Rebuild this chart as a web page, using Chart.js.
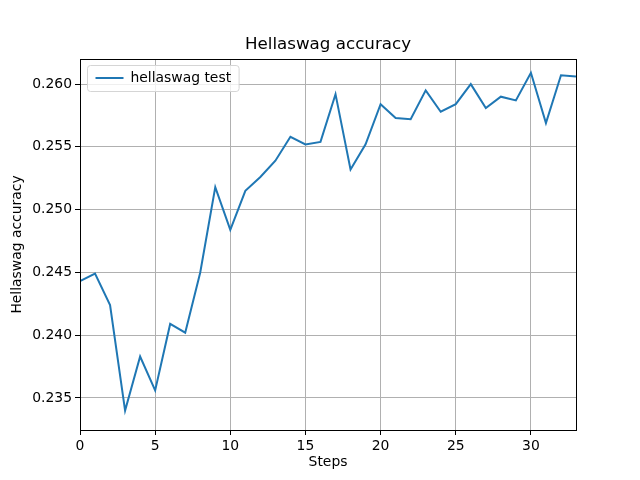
<!DOCTYPE html>
<html>
<head>
<meta charset="utf-8">
<script src="https://cdn.jsdelivr.net/npm/chart.js@4"></script>
<style>
  html, body { margin: 0; padding: 0; background: #fff; }
  #wrap { width: 640px; height: 480px; }
</style>
</head>
<body>
<div id="wrap"><canvas id="myChart" width="640" height="480"></canvas></div>
<script>
// values
var steps = [0, 1, 2, 3, 4, 5, 6, 7, 8, 9, 10, 11, 12, 13, 14, 15, 16, 17, 18, 19, 20,
             21, 22, 23, 24, 25, 26, 27, 28, 29, 30, 31, 32, 33];
var accuracy = [0.2443, 0.2449, 0.2424, 0.2340, 0.2383, 0.2356, 0.2409, 0.2402, 0.2450, 0.2518,
                0.2484, 0.2515, 0.2526, 0.2539, 0.2558, 0.2552, 0.2554, 0.2592, 0.2532, 0.2552,
                0.2584, 0.2573, 0.2572, 0.2595, 0.2578, 0.2584, 0.2600, 0.2581, 0.2590, 0.2587,
                0.2609, 0.2569, 0.2607, 0.2606];
var xTicks = [0, 5, 10, 15, 20, 25, 30];
var yTicks = [0.235, 0.240, 0.245, 0.250, 0.255, 0.260];

var FONT = "'DejaVu Sans', sans-serif";
var LINE = '#1f77b4';

// frame, title and the legend inside the axes (matplotlib style)
var mplBits = {
	id: 'mplBits',
	afterDraw: function(chart) {
		var ctx = chart.ctx;
		var a = chart.chartArea;
		ctx.save();
		ctx.strokeStyle = '#000';
		ctx.lineWidth = 1;
		ctx.strokeRect(Math.round(a.left) + 0.5, Math.round(a.top) + 0.5,
			Math.round(a.right - a.left), Math.round(a.bottom - a.top));

		ctx.fillStyle = '#000';
		ctx.font = '16.7px ' + FONT;
		ctx.textAlign = 'center';
		ctx.textBaseline = 'alphabetic';
		ctx.fillText('Hellaswag accuracy', (a.left + a.right) / 2, 49);

		// legend
		var label = chart.data.datasets[0].label;
		ctx.font = '13.9px ' + FONT;
		var tw = ctx.measureText(label).width;
		var bx = a.left + 7.5, by = a.top + 6.5;
		var bw = 8 + 28 + 7 + tw + 8, bh = 26;
		ctx.beginPath();
		if (ctx.roundRect) ctx.roundRect(bx, by, bw, bh, 3); else ctx.rect(bx, by, bw, bh);
		ctx.fillStyle = 'rgba(255,255,255,0.8)';
		ctx.fill();
		ctx.strokeStyle = '#d5d5d5';
		ctx.lineWidth = 1;
		ctx.stroke();
		ctx.beginPath();
		ctx.moveTo(bx + 8, by + 12.5);
		ctx.lineTo(bx + 36, by + 12.5);
		ctx.strokeStyle = LINE;
		ctx.lineWidth = 2;
		ctx.stroke();
		ctx.fillStyle = '#000';
		ctx.textAlign = 'left';
		ctx.textBaseline = 'middle';
		ctx.fillText(label, bx + 43, by + 13);
		ctx.restore();
	}
};

var ctx = document.getElementById('myChart');
var myChart = new Chart(ctx, {
	type: 'line',
	data: {
		datasets: [{
			label: 'hellaswag test',
			data: steps.map(function(s, i) { return { x: s, y: accuracy[i] }; }),
			borderColor: LINE,
			backgroundColor: LINE,
			borderWidth: 2,
			pointRadius: 0,
			tension: 0,
			fill: false
		}]
	},
	options: {
		responsive: false,
		animation: false,
		devicePixelRatio: 1,
		layout: { padding: { top: 59, right: 64, left: 0, bottom: 0 } },
		plugins: {
			legend: { display: false },
			title: { display: false },
			tooltip: { enabled: false }
		},
		scales: {
			x: {
				type: 'linear',
				min: 0,
				max: 33,
				afterBuildTicks: function(scale) {
					scale.ticks = xTicks.map(function(v) { return { value: v }; });
				},
				afterFit: function(scale) { scale.height = 50; },
				grid: { color: '#b0b0b0', lineWidth: 1, tickColor: '#000', tickLength: 5, drawTicks: true },
				border: { display: false },
				ticks: {
					color: '#000',
					padding: 3,
					maxRotation: 0,
					font: { family: FONT, size: 13.9 },
					callback: function(v) { return String(v); }
				},
				title: {
					display: true,
					text: 'Steps',
					color: '#000',
					padding: { top: 0, bottom: 9 },
					font: { family: FONT, size: 13.9 }
				}
			},
			y: {
				min: 0.23245,
				max: 0.2620,
				afterBuildTicks: function(scale) {
					scale.ticks = yTicks.map(function(v) { return { value: v }; });
				},
				afterFit: function(scale) { scale.width = 80; },
				grid: { color: '#b0b0b0', lineWidth: 1, tickColor: '#000', tickLength: 5, drawTicks: true },
				border: { display: false },
				ticks: {
					color: '#000',
					padding: 3,
					font: { family: FONT, size: 13.9 },
					callback: function(v) { return Number(v).toFixed(3); }
				},
				title: {
					display: true,
					text: 'Hellaswag accuracy',
					color: '#000',
					padding: { top: 9, bottom: 4 },
					font: { family: FONT, size: 13.9 }
				}
			}
		}
	},
	plugins: [mplBits]
});
</script>
</body>
</html>
